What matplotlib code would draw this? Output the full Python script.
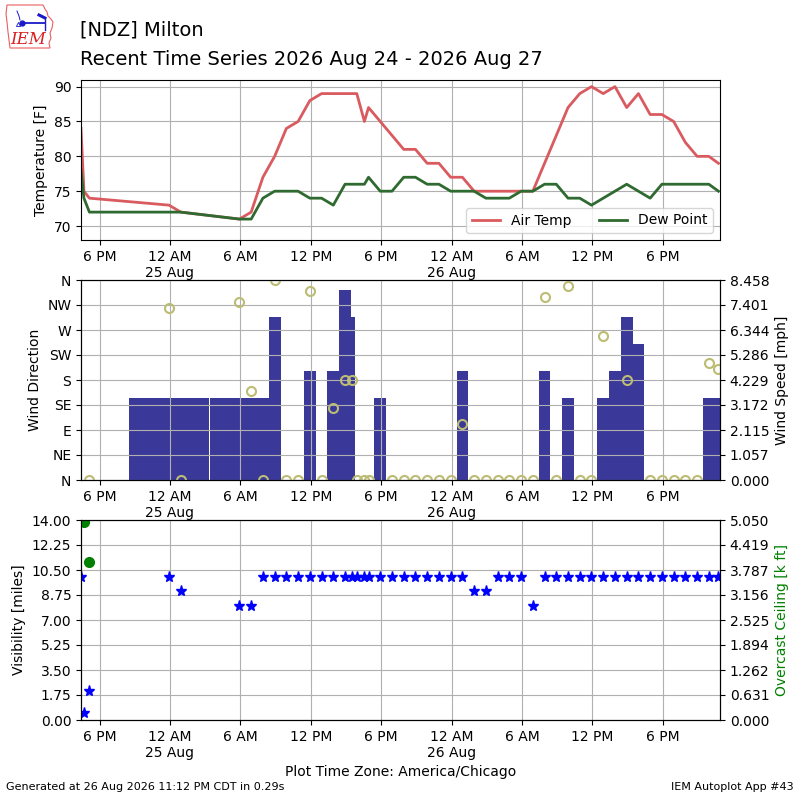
import numpy as np
import pandas as pd
import matplotlib
matplotlib.use('Agg')
import matplotlib.pyplot as plt
import matplotlib.dates as mdates
from matplotlib.ticker import FuncFormatter, FormatStrFormatter
from matplotlib.patches import Polygon

# observations (local time, America/Chicago)
times = ['2026-08-24 16:25', '2026-08-24 16:40', '2026-08-24 17:08', '2026-08-24 23:55',
         '2026-08-25 00:55', '2026-08-25 05:55', '2026-08-25 06:55', '2026-08-25 07:55',
         '2026-08-25 08:55', '2026-08-25 09:55', '2026-08-25 10:55', '2026-08-25 11:55',
         '2026-08-25 12:55', '2026-08-25 13:55', '2026-08-25 14:55', '2026-08-25 15:30',
         '2026-08-25 15:55', '2026-08-25 16:34', '2026-08-25 16:55', '2026-08-25 17:55',
         '2026-08-25 18:55', '2026-08-25 19:55', '2026-08-25 20:55', '2026-08-25 21:55',
         '2026-08-25 22:55', '2026-08-25 23:55',
         '2026-08-26 00:55', '2026-08-26 01:55', '2026-08-26 02:55', '2026-08-26 03:55',
         '2026-08-26 04:55', '2026-08-26 05:55', '2026-08-26 06:55', '2026-08-26 07:55',
         '2026-08-26 08:55', '2026-08-26 09:55', '2026-08-26 10:55', '2026-08-26 11:55',
         '2026-08-26 12:55', '2026-08-26 13:55', '2026-08-26 14:55', '2026-08-26 15:55',
         '2026-08-26 16:55', '2026-08-26 17:55', '2026-08-26 18:55', '2026-08-26 19:55',
         '2026-08-26 20:55', '2026-08-26 21:55', '2026-08-26 22:44']

tmpf = [84, 75, 74, 73,
        72, 71, 72, 77, 80, 84, 85, 88, 89, 89, 89, 89, 89, 85, 87, 85, 83, 81, 81, 79, 79, 77,
        77, 75, 75, 75, 75, 75, 75, 79, 83, 87, 89, 90, 89, 90, 87, 89, 86, 86, 85, 82, 80, 80, 79]
dwpf = [78, 74, 72, 72,
        72, 71, 71, 74, 75, 75, 75, 74, 74, 73, 76, 76, 76, 76, 77, 75, 75, 77, 77, 76, 76, 75,
        75, 75, 74, 74, 74, 75, 75, 76, 76, 74, 74, 73, 74, 75, 76, 75, 74, 76, 76, 76, 76, 76, 75]
nan = np.nan
drct = [nan, nan, 0, 310,
        0, 320, 160, 0, 360, 0, 0, 340, 0, 130, 180, 180, 0, 0, 0, nan, 0, 0, 0, 0, 0, 0,
        100, 0, 0, 0, 0, 0, 0, 330, 0, 350, 0, 0, 260, nan, 180, nan, 0, 0, 0, 0, 0, 210, 200]
sknt = [nan, nan, 0, 3,
        0, 3, 3, 0, 6, 0, 0, 4, 0, 4, 7, 6, 0, 0, 0, 3, 0, 0, 0, 0, 0, 0,
        4, 0, 0, 0, 0, 0, 0, 4, 0, 3, 0, 0, 3, 4, 6, 5, 0, 0, 0, 0, 0, 3, 3]
vsby = [10, 0.5, 2, 10,
        9, 8, 8, 10, 10, 10, 10, 10, 10, 10, 10, 10, 10, 10, 10, 10, 10, 10, 10, 10, 10, 10,
        10, 9, 9, 10, 10, 10, 8, 10, 10, 10, 10, 10, 10, 10, 10, 10, 10, 10, 10, 10, 10, 10, 10]
ceiling = [nan, 5.0, 4.0] + [nan] * 46   # overcast ceiling, k ft

valid = pd.to_datetime(times)
x = mdates.date2num(valid.to_pydatetime())
tmpf = np.array(tmpf, float)
dwpf = np.array(dwpf, float)
drct = np.array(drct, float)
smph = np.array(sknt, float) * 1.15078
vsby = np.array(vsby, float)
ceiling = np.array(ceiling, float)

# bar width = time since previous ob
widths = np.diff(x)
widths = np.concatenate([[widths[0]], widths])


def time_label(v, pos):
    d = mdates.num2date(v)
    s = d.strftime('%-I %p')
    if d.hour == 0:
        s += '\n' + d.strftime('%-d %b')
    return s


def setup_time(ax):
    ax.xaxis.set_major_locator(mdates.HourLocator(byhour=[0, 6, 12, 18]))
    ax.xaxis.set_major_formatter(FuncFormatter(time_label))
    ax.set_xlim(x[0], mdates.date2num(pd.Timestamp('2026-08-26 22:52').to_pydatetime()))


fig = plt.figure(figsize=(8, 8), dpi=100)

fig.text(0.1, 0.955, '[NDZ] Milton', fontsize=14, va='baseline')
fig.text(0.1, 0.919, 'Recent Time Series 2026 Aug 24 - 2026 Aug 27', fontsize=14, va='baseline')

# logo, drawn in pixel units (y down)
axl = fig.add_axes([0.00625, 0.93375, 0.0625, 0.0625])
axl.axis('off')
axl.set_xlim(5, 55)
axl.set_ylim(53, 3)
iowa = [(7, 5), (43, 5), (45, 9), (47, 12), (48, 16), (51, 19), (53, 22), (52, 28),
        (50, 33), (51, 38), (49, 43), (50, 48), (10, 48), (9, 40), (8, 32), (7, 22), (6, 14)]
axl.add_patch(Polygon(iowa, closed=True, fill=False, edgecolor='#e86060', lw=0.8))
axl.text(28, 39, 'IEM', color='#d82020', fontsize=12, style='italic', family='serif',
         ha='center', va='center')
axl.plot([22, 45], [23, 23], color='#1a1ac8', lw=1.3)
axl.plot([22], [23], 'o', color='#1a1ac8', ms=3.5)
axl.plot([45, 45], [19, 30], color='#1a1ac8', lw=1)
axl.plot([39, 45], [15, 18], color='#1a1ac8', lw=2.2)
axl.plot([17, 19, 20], [11, 16, 20], color='#1a1ac8', lw=0.7)
axl.plot([18], [24], '^', mfc='none', mec='#1a1ac8', ms=3, mew=0.6)

# temperature
ax1 = fig.add_axes([0.10125, 0.70, 0.79875, 0.20])
ax1.plot(x, tmpf, color='#d95b60', lw=2, label='Air Temp')
ax1.plot(x, dwpf, color='#2f6a30', lw=2, label='Dew Point')
ax1.set_ylim(68, 90.95)
ax1.set_yticks([70, 75, 80, 85, 90])
ax1.set_ylabel('Temperature [F]')
ax1.grid(True)
ax1.legend(loc='lower right', ncol=2)
setup_time(ax1)

# wind
ax2 = fig.add_axes([0.10125, 0.40, 0.79875, 0.25])
ax2b = ax2.twinx()
ok = ~np.isnan(smph)
ax2b.bar(x[ok], smph[ok], width=widths[ok], color='#3a3898', align='center')
ymax = np.nanmax(smph) * 1.05
ax2b.set_ylim(0, ymax)
ax2b.set_yticks(np.linspace(0, ymax, 9))
ax2b.yaxis.set_major_formatter(FormatStrFormatter('%.3f'))
ax2b.set_ylabel('Wind Speed [mph]')
ax2.set_zorder(ax2b.get_zorder() + 1)
ax2.patch.set_visible(False)
ax2.plot(x, drct, 'o', mfc='none', mec='#bcbc74', mew=1.5, ms=6.5)
ax2.set_ylim(0, 360)
ax2.set_yticks(range(0, 361, 45))
ax2.set_yticklabels(['N', 'NE', 'E', 'SE', 'S', 'SW', 'W', 'NW', 'N'])
ax2.set_ylabel('Wind Direction')
ax2.grid(True)
setup_time(ax2)

# visibility / ceiling
ax3 = fig.add_axes([0.10125, 0.10, 0.79875, 0.25])
ax3.plot(x, vsby, '*', color='b', ms=8)
ax3.set_ylim(0, 14)
ax3.set_yticks(np.linspace(0, 14, 9))
ax3.yaxis.set_major_formatter(FormatStrFormatter('%.2f'))
ax3.set_ylabel('Visibility [miles]')
ax3.grid(True)
ax3b = ax3.twinx()
ax3b.plot(x, ceiling, 'o', color='g', ms=7)
ax3b.set_ylim(0, 5.05)
ax3b.set_yticks(np.linspace(0, 5.05, 9))
ax3b.yaxis.set_major_formatter(FormatStrFormatter('%.3f'))
ax3b.set_ylabel('Overcast Ceiling [k ft]', color='g')
setup_time(ax3)
setup_time(ax3b)
ax3.set_xlabel('Plot Time Zone: America/Chicago')

fig.text(0.008, 0.012, 'Generated at 26 Aug 2026 11:12 PM CDT in 0.29s', fontsize=8)
fig.text(0.992, 0.012, 'IEM Autoplot App #43', fontsize=8, ha='right')

fig.savefig('out.png', dpi=100)
